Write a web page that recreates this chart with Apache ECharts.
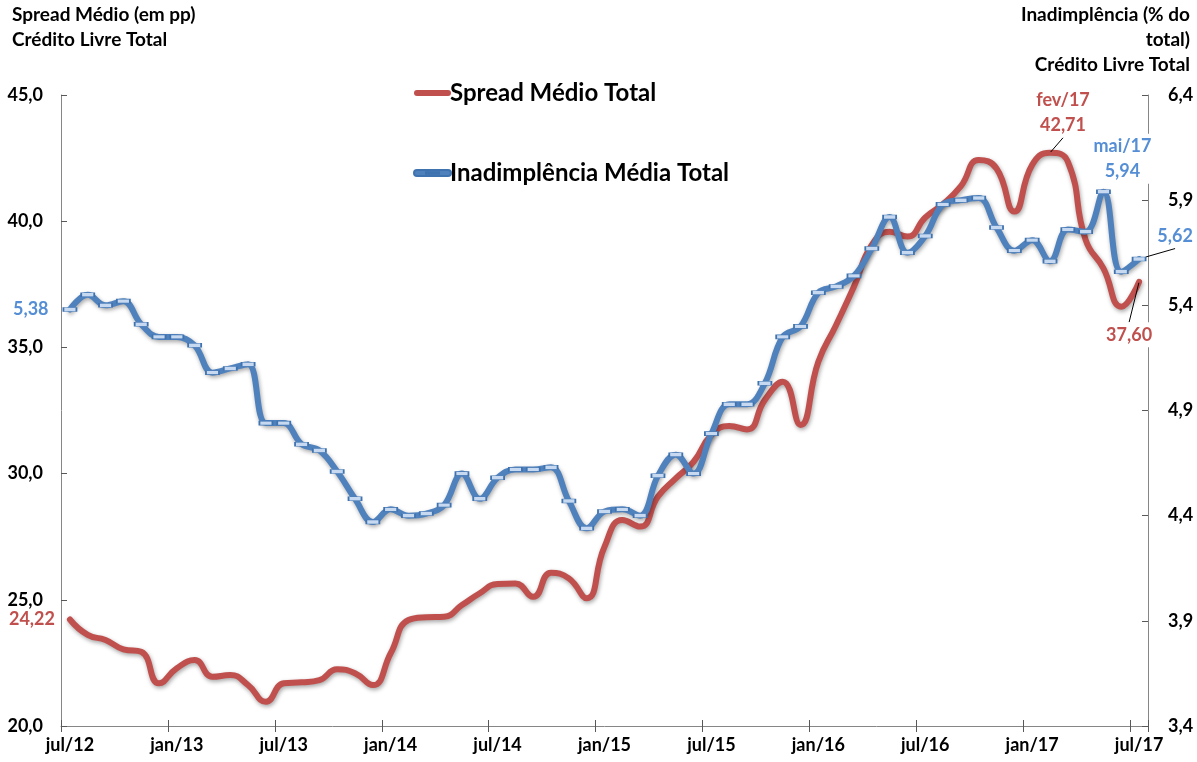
<!DOCTYPE html>
<html>
<head>
<meta charset="utf-8">
<style>
  html, body { margin: 0; padding: 0; background: #fff; }
  #chart { width: 1197px; height: 762px; }
</style>
<script src="https://cdn.jsdelivr.net/npm/echarts@6/dist/echarts.min.js"></script>
</head>
<body>
<div id="chart"></div>
<script>
// Monthly categories, jul/2012 to jul/2017
const months = [
  'jul/12','ago/12','set/12','out/12','nov/12','dez/12',
  'jan/13','fev/13','mar/13','abr/13','mai/13','jun/13',
  'jul/13','ago/13','set/13','out/13','nov/13','dez/13',
  'jan/14','fev/14','mar/14','abr/14','mai/14','jun/14',
  'jul/14','ago/14','set/14','out/14','nov/14','dez/14',
  'jan/15','fev/15','mar/15','abr/15','mai/15','jun/15',
  'jul/15','ago/15','set/15','out/15','nov/15','dez/15',
  'jan/16','fev/16','mar/16','abr/16','mai/16','jun/16',
  'jul/16','ago/16','set/16','out/16','nov/16','dez/16',
  'jan/17','fev/17','mar/17','abr/17','mai/17','jun/17',
  'jul/17'
];

// Spread médio total, crédito livre (p.p.)
const spreadMedio = [
  24.22, 23.61, 23.41, 23.04, 22.94, 21.69,
  22.29, 22.61, 21.95, 22.02, 21.62, 20.96,
  21.69, 21.73, 21.82, 22.25, 22.09, 21.62,
  22.88, 24.20, 24.31, 24.33, 24.79, 25.26,
  25.63, 25.65, 25.12, 26.07, 25.85, 25.06,
  27.10, 28.16, 27.90, 29.09, 29.81, 30.47,
  31.53, 31.89, 31.75, 32.92, 33.64, 31.93,
  34.43, 35.89, 37.41, 39.06, 39.58, 39.39,
  40.15, 40.68, 41.39, 42.42, 42.09, 40.38,
  42.23, 42.71, 42.36, 39.26, 38.13, 36.61,
  37.60
];

// Inadimplência média total, crédito livre (% do total)
const inadimplencia = [
  5.38, 5.45, 5.40, 5.42, 5.31, 5.25,
  5.25, 5.21, 5.08, 5.10, 5.12, 4.84,
  4.84, 4.74, 4.71, 4.61, 4.48, 4.37,
  4.43, 4.40, 4.41, 4.45, 4.60, 4.48,
  4.58, 4.62, 4.62, 4.63, 4.47, 4.34,
  4.42, 4.43, 4.40, 4.59, 4.69, 4.60,
  4.79, 4.93, 4.93, 5.03, 5.25, 5.30,
  5.46, 5.49, 5.54, 5.67, 5.82, 5.65,
  5.73, 5.88, 5.90, 5.91, 5.77, 5.66,
  5.71, 5.61, 5.76, 5.75, 5.94, 5.56,
  5.62
];

// Axis titles, one entry per line
const leftTitle = ['Spread Médio (em pp)', 'Crédito Livre Total'];
const rightTitle = ['Inadimplência (% do', 'total)', 'Crédito Livre Total'];

const RED = '#C0504D';
const BLUE = '#4F81BD';
const BLUE_TEXT = '#558ED5';
const FONT = 'Lato';
const fmt = (v, d) => v.toFixed(d).replace('.', ',');

const boldText = { fontFamily: FONT, fontWeight: 'bold' };
const lineShadow = { shadowColor: 'rgba(0,0,0,0.35)', shadowBlur: 4, shadowOffsetX: 1, shadowOffsetY: 2 };

// Annotated points: label text and where it sits relative to its point
const spreadNotes = {
  0:  { withMonth: false, position: 'left', distance: 14 },
  55: { withMonth: true, move: { dx: 13, dy: -40 }, guide: true },
  60: { withMonth: false, move: { dx: -10, dy: 53 }, guide: true, cover: true }
};
const inadNotes = {
  0:  { withMonth: false, position: 'left', distance: 14 },
  58: { withMonth: true, move: { dx: 19, dy: -33 }, guide: false, cover: true },
  60: { withMonth: false, move: { dx: 36, dy: -23 }, guide: true }
};

function buildData(values, notes, color) {
  return values.map((v, i) => {
    const n = notes[i];
    if (!n) return v;
    const text = (n.withMonth ? months[i] + '\n' : '') + fmt(v, 2);
    const label = {
      show: true,
      formatter: text,
      position: n.position || 'top',
      distance: n.distance || 5,
      color: color,
      fontFamily: FONT,
      fontWeight: 'bold',
      fontSize: 18,
      lineHeight: 25
    };
    if (n.move) label.align = 'center';
    if (n.cover) { label.backgroundColor = '#fff'; label.padding = [0, 2]; }
    return {
      value: v,
      label: label,
      labelLine: { show: !!n.guide, lineStyle: { color: '#000', width: 1 } }
    };
  });
}

function placeLabels(notes) {
  return function (p) {
    const n = notes[p.dataIndex];
    if (!n || !n.move) return {};
    const cx = p.rect.x + p.rect.width / 2;
    const cy = p.rect.y + p.rect.height / 2;
    return { x: cx + n.move.dx, y: cy + n.move.dy, align: 'center', verticalAlign: 'middle' };
  };
}

const axisLineStyle = { color: '#868686', width: 1 };
const tickStyle = { color: '#595959', width: 1 };

// Legend keys: thick rounded strokes; the blue one carries the dash marker
const redKey = 'path://M3,0 L34,0 A3,3 0 0 1 34,6 L3,6 A3,3 0 0 1 3,0 Z';
const blueKey = 'path://M3,0 L34,0 A3,3 0 0 1 34,6 L3,6 A3,3 0 0 1 3,0 Z M12,2.2 L12,3.8 L25,3.8 L25,2.2 Z';

const titleFont = 'bold 19px ' + FONT;
const titleLines = [];
leftTitle.forEach((t, i) => titleLines.push({
  type: 'text', left: 12, top: 5 + i * 25,
  style: { text: t, font: titleFont, fill: '#000' }
}));
rightTitle.forEach((t, i) => titleLines.push({
  type: 'text', right: 7, top: 5 + i * 25,
  style: { text: t, font: titleFont, fill: '#000' }
}));

const chart = echarts.init(document.getElementById('chart'), null, { renderer: 'canvas' });
chart.setOption({
  animation: false,
  backgroundColor: '#fff',
  graphic: titleLines,
  legend: {
    orient: 'vertical',
    left: 408,
    top: 76,
    itemGap: 56,
    itemWidth: 37,
    itemHeight: 6,
    selectedMode: false,
    textStyle: Object.assign({ fontSize: 24, color: '#000', padding: [0, 0, 0, -6] }, boldText),
    data: [
      { name: 'Spread Médio Total', icon: redKey, itemStyle: { color: RED } },
      { name: 'Inadimplência Média Total', icon: blueKey, itemStyle: { color: BLUE } }
    ]
  },
  grid: { left: 61, right: 49, top: 95, bottom: 36, containLabel: false },
  xAxis: [
    {
      type: 'category',
      data: months,
      boundaryGap: true,
      position: 'bottom',
      axisLine: { show: true, lineStyle: axisLineStyle },
      axisTick: { show: true, interval: 5, length: 6, lineStyle: tickStyle },
      axisLabel: Object.assign({ interval: 5, margin: 10, fontSize: 18, color: '#000' }, boldText)
    },
    {
      type: 'category',
      data: months,
      boundaryGap: true,
      position: 'bottom',
      axisLine: { show: false },
      axisTick: { show: true, inside: true, interval: 5, length: 6, lineStyle: tickStyle },
      axisLabel: { show: false }
    }
  ],
  yAxis: [
    {
      type: 'value',
      position: 'left',
      min: 20, max: 45, interval: 5,
      axisLine: { show: true, lineStyle: axisLineStyle },
      axisTick: { show: true, inside: true, length: 6, lineStyle: tickStyle },
      splitLine: { show: false },
      axisLabel: Object.assign({ margin: 18, fontSize: 18, color: '#000', formatter: v => fmt(v, 1) }, boldText)
    },
    {
      type: 'value',
      position: 'right',
      min: 3.4, max: 6.4, interval: 0.5,
      axisLine: { show: true, lineStyle: axisLineStyle },
      axisTick: { show: true, inside: true, length: 6, lineStyle: tickStyle },
      splitLine: { show: false },
      axisLabel: Object.assign({ margin: 20, fontSize: 18, color: '#000', formatter: v => fmt(v, 1) }, boldText)
    }
  ],
  series: [
    {
      name: 'Spread Médio Total',
      type: 'line',
      xAxisIndex: 0,
      yAxisIndex: 0,
      data: buildData(spreadMedio, spreadNotes, RED),
      smooth: 0.5,
      symbol: 'circle',
      symbolSize: 2,
      showSymbol: true,
      showAllSymbol: true,
      itemStyle: { color: 'rgba(0,0,0,0)' },
      lineStyle: Object.assign({ color: RED, width: 6, cap: 'round', join: 'round' }, lineShadow),
      labelLayout: placeLabels(spreadNotes),
      emphasis: { disabled: true },
      z: 2
    },
    {
      name: 'Inadimplência Média Total',
      type: 'line',
      xAxisIndex: 0,
      yAxisIndex: 1,
      data: buildData(inadimplencia, inadNotes, BLUE_TEXT),
      smooth: 0.4,
      symbol: 'rect',
      symbolSize: [13, 4],
      showSymbol: true,
      showAllSymbol: true,
      itemStyle: { color: '#C6D9F1', borderColor: '#3F73B0', borderWidth: 1 },
      lineStyle: Object.assign({ color: BLUE, width: 6, cap: 'round', join: 'round' }, lineShadow),
      labelLayout: placeLabels(inadNotes),
      emphasis: { disabled: true },
      z: 3
    }
  ]
});
</script>
</body>
</html>
